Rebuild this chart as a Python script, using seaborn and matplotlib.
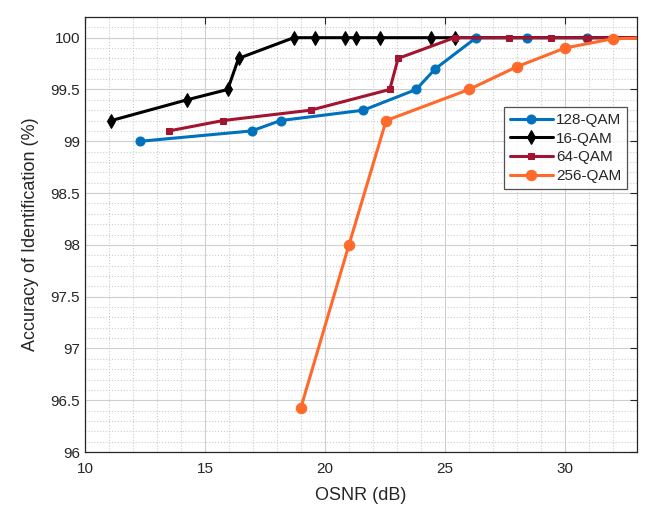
import numpy as np
import pandas as pd
import matplotlib
matplotlib.use("Agg")
import matplotlib.pyplot as plt
import seaborn as sns
from matplotlib.ticker import MultipleLocator

# values
osnr_128 = [12.3, 16.95, 18.15, 21.6, 23.8, 24.6, 26.3, 28.4, 30.9, 34.0]
acc_128 = [99.0, 99.1, 99.2, 99.3, 99.5, 99.7, 100.0, 100.0, 100.0, 100.0]

osnr_16 = [11.1, 14.25, 15.95, 16.4, 18.7, 19.6, 20.85, 21.3, 22.3, 24.4, 25.4, 34.0]
acc_16 = [99.2, 99.4, 99.5, 99.8, 100.0, 100.0, 100.0, 100.0, 100.0, 100.0, 100.0, 100.0]

osnr_64 = [13.5, 15.75, 19.4, 22.7, 23.05, 25.4, 27.65, 29.4, 30.9, 34.0]
acc_64 = [99.1, 99.2, 99.3, 99.5, 99.8, 100.0, 100.0, 100.0, 100.0, 100.0]

osnr_256 = [19.0, 21.0, 22.55, 26.0, 28.0, 30.0, 32.0, 34.0]
acc_256 = [96.43, 98.0, 99.2, 99.5, 99.72, 99.9, 99.99, 100.0]

labels = ["128-QAM", "16-QAM", "64-QAM", "256-QAM"]
colors = ["#0072BD", "#000000", "#A2142F", "#FF6929"]
markers = ["o", "d", "s", "o"]
msizes = [6.5, 7.5, 5, 7.5]

frames = []
for lab, xs, ys in zip(labels, [osnr_128, osnr_16, osnr_64, osnr_256],
                       [acc_128, acc_16, acc_64, acc_256]):
    frames.append(pd.DataFrame({"osnr": xs, "acc": ys, "fmt": lab}))
df = pd.concat(frames, ignore_index=True)

sns.set_style("white")
plt.rcParams["font.family"] = ["Liberation Sans", "DejaVu Sans"]
plt.rcParams["text.color"] = "#262626"
plt.rcParams["xtick.color"] = "#262626"
plt.rcParams["ytick.color"] = "#262626"

fig = plt.figure(figsize=(6.48, 5.30), dpi=100)
ax = fig.add_axes([0.131, 0.147, 0.852, 0.821])

for lab, c, m, ms in zip(labels, colors, markers, msizes):
    sub = df[df["fmt"] == lab]
    sns.lineplot(data=sub, x="osnr", y="acc", ax=ax, sort=False, color=c,
                 marker=m, markersize=ms, markeredgecolor=c, linewidth=2.2,
                 label=lab, clip_on=True)

ax.set_xlim(10, 33)
ax.set_ylim(96, 100.2)
ax.xaxis.set_major_locator(MultipleLocator(5))
ax.xaxis.set_minor_locator(MultipleLocator(1))
ax.yaxis.set_minor_locator(MultipleLocator(0.1))
ax.set_yticks(np.arange(96, 100.01, 0.5))
ax.set_yticklabels(["96", "96.5", "97", "97.5", "98", "98.5", "99", "99.5", "100"])

ax.grid(which="major", color="#cfcfcf", linestyle="-", linewidth=0.8)
ax.grid(which="minor", color="#cccccc", linestyle=":", linewidth=0.8)
ax.set_axisbelow(True)
ax.tick_params(which="major", direction="in", length=5, labelsize=11,
               top=True, right=True, color="#262626")
ax.tick_params(axis="x", which="major", pad=7)
ax.tick_params(which="minor", length=0)
for s in ax.spines.values():
    s.set_color("#262626")
    s.set_linewidth(0.9)

ax.set_xlabel("OSNR (dB)", fontsize=13, labelpad=8)
ax.set_ylabel("Accuracy of Identification (%)", fontsize=13, labelpad=8)

leg = ax.legend(loc="upper right", bbox_to_anchor=(0.988, 0.80), fontsize=11,
                frameon=True, fancybox=False, handlelength=2.8,
                borderpad=0.4, labelspacing=0.3, handletextpad=0.2,
                borderaxespad=0.2)
leg.get_frame().set_edgecolor("#262626")
leg.get_frame().set_linewidth(0.9)

fig.savefig("out.png", dpi=100)
